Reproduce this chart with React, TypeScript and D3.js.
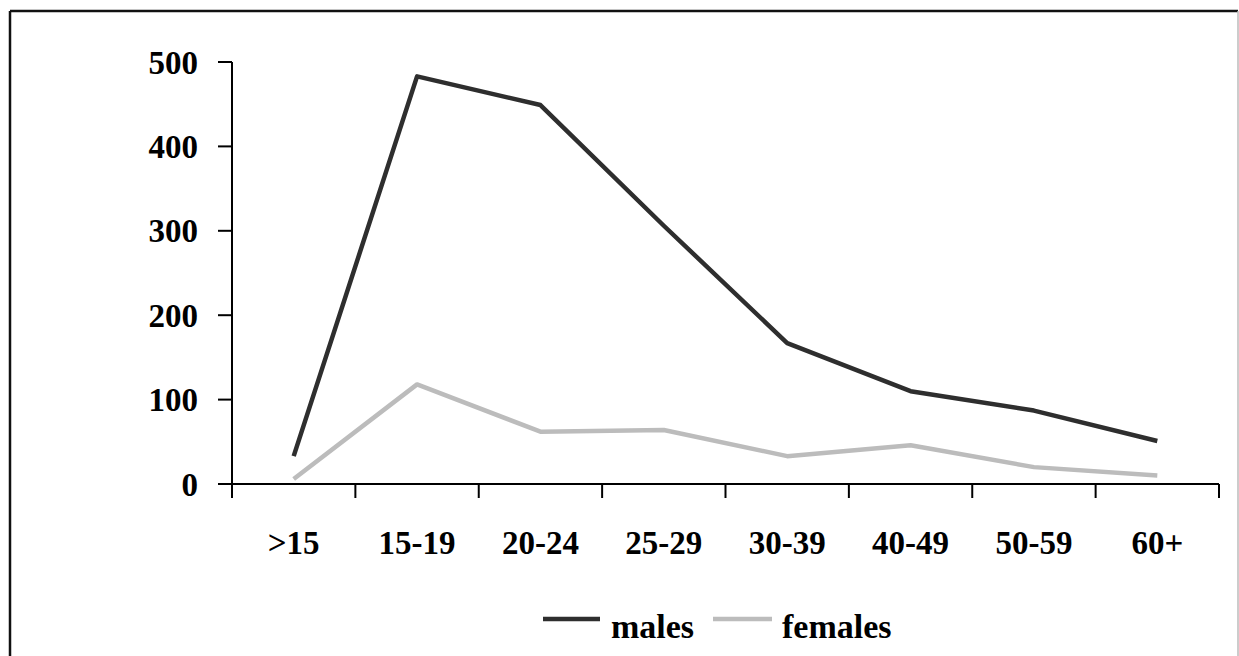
import React from "react";
import * as d3 from "d3";

const categories = [">15", "15-19", "20-24", "25-29", "30-39", "40-49", "50-59", "60+"];
const males = [33, 483, 449, 306, 167, 110, 87, 51];
const females = [6, 118, 62, 64, 33, 46, 20, 10];
const yTicks = [0, 100, 200, 300, 400, 500];
const seriesNames = ["males", "females"];

const W = 1239;
const H = 656;
const left = 232;
const right = 1219;
const top = 62;
const bottom = 484;

export default function App() {
  const x = d3.scaleBand<string>().domain(categories).range([left, right]).padding(0);
  const y = d3.scaleLinear().domain([0, 500]).range([bottom, top]);
  const line = d3
    .line<number>()
    .x((_, i) => (x(categories[i]) as number) + x.bandwidth() / 2)
    .y((d) => y(d));
  const font = "'Liberation Serif', 'Times New Roman', serif";
  const boundaries = d3.range(categories.length + 1).map((i) => left + i * x.bandwidth());
  return (
    <svg
      width={W}
      height={H}
      style={{ position: "absolute", left: 0, top: 0, background: "#fff" }}
      fontFamily={font}
      fontWeight="bold"
    >
      <rect x={0} y={0} width={W} height={H} fill="#fff" />
      {/* frame */}
      <line x1={10} y1={11} x2={1238} y2={11} stroke="#111" strokeWidth={2.5} />
      <line x1={10} y1={11} x2={10} y2={H} stroke="#111" strokeWidth={2.5} />
      <line x1={1238} y1={11} x2={1238} y2={H} stroke="#bbb" strokeWidth={1.5} />

      {/* y axis */}
      <line x1={left} y1={top} x2={left} y2={bottom} stroke="#000" strokeWidth={2} />
      {yTicks.map((t) => (
        <g key={t}>
          <line x1={left - 14} y1={y(t)} x2={left} y2={y(t)} stroke="#000" strokeWidth={2} />
          <text x={198} y={y(t)} dy="0.35em" textAnchor="end" fontSize={33} fill="#000">
            {t}
          </text>
        </g>
      ))}

      {/* x axis */}
      <line x1={left - 14} y1={bottom} x2={right} y2={bottom} stroke="#000" strokeWidth={2} />
      {boundaries.map((b, i) => (
        <line key={i} x1={b} y1={bottom} x2={b} y2={bottom + 14} stroke="#000" strokeWidth={2} />
      ))}
      {categories.map((c) => (
        <text
          key={c}
          x={(x(c) as number) + x.bandwidth() / 2}
          y={542}
          dy="0.35em"
          textAnchor="middle"
          fontSize={33}
          fill="#000"
        >
          {c}
        </text>
      ))}

      {/* lines */}
      <path d={line(females) as string} fill="none" stroke="#bcbcbc" strokeWidth={4.5} strokeLinejoin="round" />
      <path d={line(males) as string} fill="none" stroke="#2e2e2e" strokeWidth={4.5} strokeLinejoin="round" />

      {/* legend */}
      <line x1={543} y1={619} x2={600} y2={619} stroke="#2e2e2e" strokeWidth={4.5} />
      <text x={611} y={626} dy="0.35em" fontSize={34} fill="#000">
        {seriesNames[0]}
      </text>
      <line x1={713} y1={619} x2={772} y2={619} stroke="#bcbcbc" strokeWidth={4.5} />
      <text x={782} y={626} dy="0.35em" fontSize={34} fill="#000">
        {seriesNames[1]}
      </text>
    </svg>
  );
}
